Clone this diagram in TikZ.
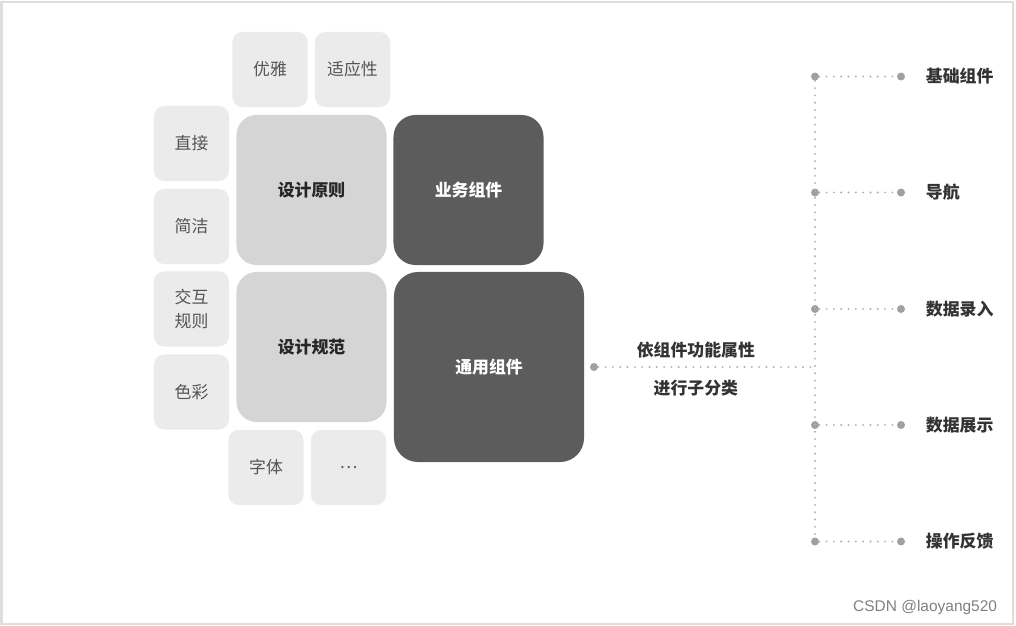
\documentclass[tikz,border=0pt]{standalone}
\usepackage{fontspec}
\setmainfont{Noto Sans CJK SC}
\newfontfamily\wmfont{Liberation Sans}
\usepackage{tikz}
\usetikzlibrary{positioning}

\definecolor{cellgray}{RGB}{235,235,235}
\definecolor{coregray}{RGB}{213,213,213}
\definecolor{compgray}{RGB}{92,92,92}
\definecolor{celltext}{RGB}{85,85,85}
\definecolor{dotgray}{RGB}{160,160,160}
\definecolor{linkgray}{RGB}{175,175,175}
\definecolor{framegray}{RGB}{222,222,222}

\begin{document}
\begin{tikzpicture}[
  x=0.025cm, y=-0.025cm,
  cell/.style={fill=cellgray, rounded corners=0.25cm, minimum width=1.875cm, minimum height=1.875cm, inner sep=0pt, align=center, text=celltext, font=\fontsize{12}{17.5}\selectfont},
  core/.style={fill=coregray, rounded corners=0.5cm, minimum width=3.75cm, minimum height=3.75cm, inner sep=0pt, text=black!85, font=\fontsize{12}{14}\selectfont\bfseries},
  comp/.style={fill=compgray, rounded corners=0.55cm, minimum width=3.75cm, minimum height=3.75cm, inner sep=0pt, text=white, font=\fontsize{12}{14}\selectfont\bfseries},
  dot/.style={circle, fill=dotgray, inner sep=0pt, minimum size=0.2cm},
  link/.style={draw=linkgray, line width=1.5pt, dash pattern=on 0pt off 5.2pt, line cap=round},
  lbl/.style={text=black!80, font=\fontsize{12}{14}\selectfont\bfseries}
]
% frame
\useasboundingbox (0,0) rectangle (1016,625);
\draw[framegray, line width=0.05cm] (1.5,1.5) rectangle (1013,623.5);

% small cells round the core
\node[cell] (elegant) at (270,  69.5) {优雅};
\node[cell] (adapt)   at (352.5,69.5) {适应性};
\node[cell] (direct)  at (191.5,143.5) {直接};
\node[cell] (concise) at (191.5,226.5) {简洁};
\node[cell] (interact) at (191.5,309) {交互\\规则};
\node[cell] (colour)  at (191.5,392) {色彩};
\node[cell] (typeface) at (266, 467.5) {字体};
\node[cell] (more)    at (348.5,467.5) {…};

% core blocks
\node[core] (principle) at (311.5,190) {设计原则};
\node[core] (spec)      at (311.5,347) {设计规范};
\node[comp] (business)  at (468.5,190) {业务组件};
\node[comp, minimum width=4.75cm, minimum height=4.75cm, rounded corners=0.6cm] (common) at (489,367) {通用组件};

% classification tree
\node[dot] (src) at (594,367) {};
\coordinate (hub) at (815,367);
\draw[link] (src) -- (hub)
  node[lbl, pos=0.45, above=2.5pt] (why) {依组件功能属性}
  node[lbl, pos=0.45, below=5.5pt] (how) {进行子分类};

\foreach \i/\y/\t in {1/76.5/基础组件, 2/192.5/导航, 3/309/数据录入, 4/425/数据展示, 5/541.5/操作反馈}{
  \node[dot] (b\i) at (815,\y) {};
  \node[dot] (e\i) at (901,\y) {};
  \node[lbl, anchor=west] (l\i) at (921,\y) {\t};
  \draw[link] (b\i) -- (e\i);
}
\draw[link] (b1) -- (b5);

% watermark
\node[anchor=east, text=gray, font=\wmfont\fontsize{11}{13}\selectfont] (mark) at (1002,607) {CSDN @laoyang520};
\end{tikzpicture}
\end{document}
